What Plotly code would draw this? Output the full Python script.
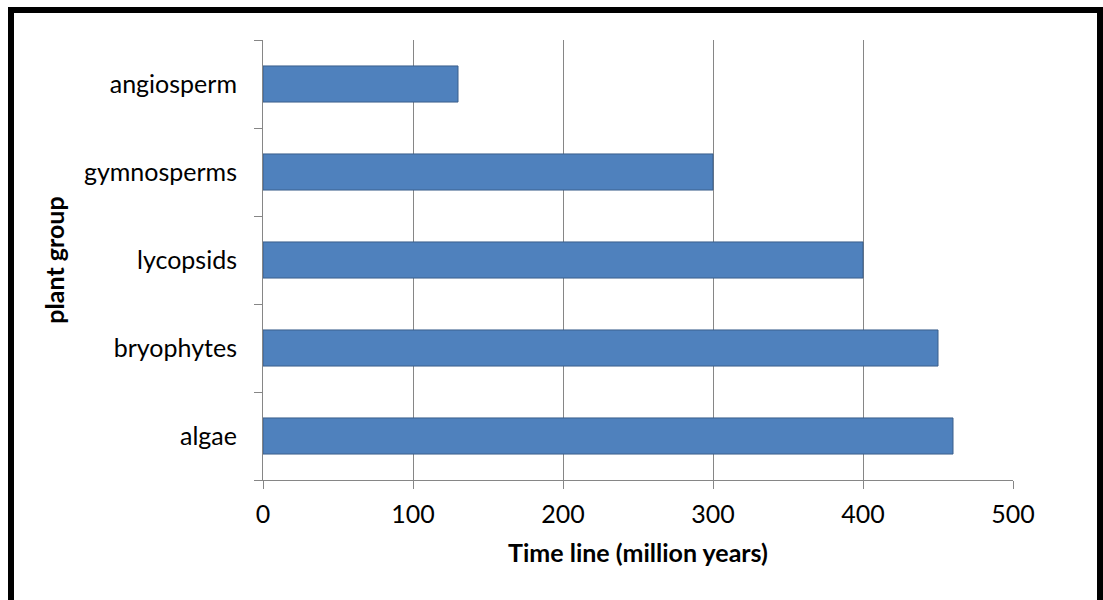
import plotly.graph_objects as go

# Plant groups (bottom to top) and their first appearance in million years
groups = ["algae", "bryophytes", "lycopsids", "gymnosperms", "angiosperm"]
years = [460, 450, 400, 300, 130]
x_ticks = [0, 100, 200, 300, 400, 500]

AXIS_GREY = "#868686"
FONT = "Lato, Carlito, Calibri, sans-serif"

fig = go.Figure(
    go.Bar(
        x=years,
        y=groups,
        orientation="h",
        width=0.41,
        marker=dict(color="#4F81BD", line=dict(color="#3A5F8B", width=1)),
        hoverinfo="x+y",
    )
)

fig.update_layout(
    width=1103,
    height=600,
    margin=dict(l=263, r=90, t=40, b=120, autoexpand=False),
    paper_bgcolor="white",
    plot_bgcolor="white",
    font=dict(family=FONT, size=25, color="black"),
    showlegend=False,
    bargap=0.59,
)

fig.update_xaxes(
    range=[0, 500],
    tickvals=x_ticks,
    ticktext=[str(v) for v in x_ticks],
    showgrid=True,
    gridcolor=AXIS_GREY,
    gridwidth=1,
    zeroline=False,
    showline=True,
    linecolor=AXIS_GREY,
    linewidth=1,
    ticks="outside",
    ticklen=8,
    tickcolor=AXIS_GREY,
    tickwidth=1,
    ticklabelstandoff=4,
    automargin=False,
    title=dict(
        text="<b>Time line (million years)</b>",
        font=dict(family=FONT, size=25, color="black"),
        standoff=17,
    ),
)

fig.update_yaxes(
    type="category",
    categoryorder="array",
    categoryarray=groups,
    showgrid=False,
    zeroline=False,
    showline=True,
    linecolor=AXIS_GREY,
    linewidth=1,
    ticks="outside",
    tickson="boundaries",
    ticklen=8,
    tickcolor=AXIS_GREY,
    tickwidth=1,
    ticklabelstandoff=20,
    automargin=False,
    title=dict(
        text="<b>plant group</b>",
        font=dict(family=FONT, size=25, color="black"),
        standoff=12,
    ),
)

# Thick black frame around the chart
fig.add_shape(
    type="rect",
    xref="paper",
    yref="paper",
    x0=(11 - 263) / 750,
    x1=(1100 - 263) / 750,
    y0=(480 - 640) / 440,
    y1=(480 - 10) / 440,
    line=dict(color="black", width=6),
    fillcolor="rgba(0,0,0,0)",
    layer="above",
)

fig.write_html("out.html")
